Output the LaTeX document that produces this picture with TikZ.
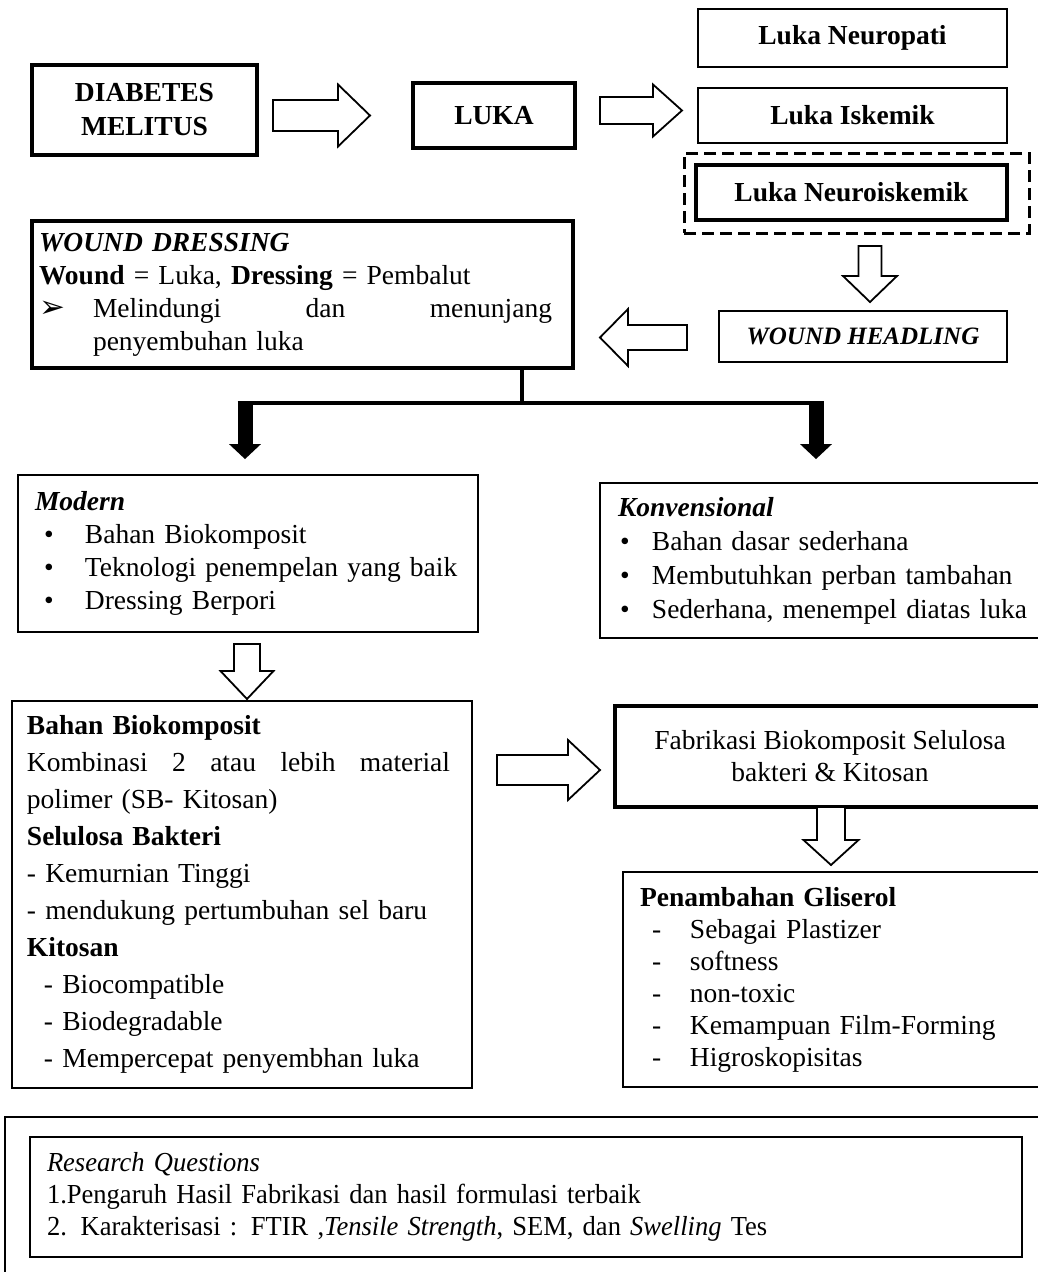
\documentclass[tikz,border=0pt]{standalone}
\usepackage{fontspec}
\setmainfont{Liberation Serif}
\newfontfamily\symfont{DejaVu Sans}
\newfontfamily\condfont[FakeStretch=0.965]{Liberation Serif}
\usetikzlibrary{calc,arrows.meta}

\tikzset{
  thinbox/.style={draw, line width=1.8pt, inner sep=0pt},
  thickbox/.style={draw, line width=3.5pt, inner sep=0pt},
  hollow/.style={draw, line width=1.8pt, fill=white, line join=miter},
  barline/.style={line width=3.5pt},
  thickarrow/.style={line width=15pt, -{Triangle[width=31pt,length=15pt]}}
}

% hollow block arrow: tail, tip, shaft half width, head half width, head length
\newcommand\hollowarrow[5]{%
  \coordinate (hb) at ($(#2)!#5!(#1)$);
  \draw[hollow] ($(#1)!#3!90:(#2)$) -- ($(hb)!#3!-90:(#1)$) -- ($(hb)!#4!-90:(#1)$) -- (#2)
    -- ($(hb)!#4!90:(#1)$) -- ($(hb)!#3!90:(#1)$) -- ($(#1)!#3!-90:(#2)$) -- cycle;
}
\newcommand\bul{\hspace*{9pt}\makebox[41pt][l]{\textbullet}}
\newcommand\kbul{\hspace*{2pt}\makebox[32pt][l]{\textbullet}}
\newcommand\gdash{\hspace*{12pt}\makebox[38pt][l]{-}}

\begin{document}
\fontsize{27.5}{33}\selectfont
\begin{tikzpicture}[x=1pt, y=-1pt]
  \useasboundingbox (0,0) rectangle (1038,1272);

  % top row
  \node[thickbox, minimum width=225, minimum height=90, align=center,
        font=\bfseries\fontsize{27.5}{34}\selectfont] (dm) at (144.5,110) {DIABETES\\MELITUS};
  \node[thickbox, minimum width=162, minimum height=65, font=\bfseries] (luka) at (494,115.5) {LUKA};
  \node[thinbox, minimum width=309, minimum height=58, font=\bfseries] (neuro) at (852.5,38) {Luka Neuropati};
  \node[thinbox, minimum width=309, minimum height=55, font=\bfseries] (isk) at (852.5,115.5) {Luka Iskemik};
  \node[draw, line width=3pt, dash pattern=on 12pt off 6pt, minimum width=345, minimum height=80] (sel) at (856.5,193) {};
  \node[thickbox, minimum width=311, minimum height=55, font=\bfseries] (nisk) at (851.5,192.5) {Luka Neuroiskemik};
  \node[thinbox, minimum width=288, minimum height=51,
        font=\bfseries\itshape\fontsize{25}{30}\selectfont] (heal) at (863,336.5) {WOUND HEADLING};

  % wound dressing
  \node[thickbox, minimum width=541, minimum height=147, text width=527, align=left] (dress) at (302.5,294.5) {%
    {\bfseries\itshape WOUND DRESSING}\\
    {\bfseries Wound} = Luka, {\bfseries Dressing} = Pembalut\\
    \makebox[54pt][l]{\symfont\fontsize{31}{31}\selectfont ➢}\makebox[459pt][l]{Melindungi\hfill dan\hfill menunjang}\\
    \hspace*{54pt}penyembuhan luka};

  % modern / konvensional
  \node[thinbox, minimum width=460, minimum height=157, text width=426, align=left] (modern) at (248,553.5) {%
    {\bfseries\itshape Modern}\\
    \bul Bahan Biokomposit\\
    \bul Teknologi penempelan yang baik\\
    \bul Dressing Berpori};
  \node[thinbox, minimum width=445, minimum height=155, text width=409, align=left,
        font=\fontsize{27.5}{34}\selectfont] (konv) at (822.5,560.5) {%
    {\bfseries\itshape Konvensional}\\
    \kbul Bahan dasar sederhana\\
    \kbul Membutuhkan perban tambahan\\
    \kbul Sederhana, menempel diatas luka};

  % biokomposit
  \node[thinbox, minimum width=460, minimum height=387, text width=430, align=left,
        font=\fontsize{27.5}{37}\selectfont] (bahan) at (242,894.5) {%
    {\bfseries Bahan Biokomposit}\\
    \makebox[423pt][l]{Kombinasi\hfill 2\hfill atau\hfill lebih\hfill material}\\
    polimer (SB- Kitosan)\\
    {\bfseries Selulosa Bakteri}\\
    - Kemurnian Tinggi\\
    - mendukung pertumbuhan sel baru\\
    {\bfseries Kitosan}\\
    \hspace*{17pt}- Biocompatible\\
    \hspace*{17pt}- Biodegradable\\
    \hspace*{17pt}- Mempercepat penyembhan luka};
  \node[thickbox, minimum width=430, minimum height=101, align=center,
        font=\fontsize{27.5}{32}\selectfont] (fab) at (830,756.5) {Fabrikasi Biokomposit Selulosa\\bakteri \& Kitosan};
  \node[thinbox, minimum width=422, minimum height=215, text width=388, align=left,
        font=\fontsize{27.5}{32}\selectfont] (glis) at (834,979.5) {%
    {\bfseries Penambahan Gliserol}\\
    \gdash Sebagai Plastizer\\
    \gdash softness\\
    \gdash non-toxic\\
    \gdash Kemampuan Film-Forming\\
    \gdash Higroskopisitas};

  % research questions
  \node[draw, line width=2.5pt, minimum width=1040, minimum height=183] (rqout) at (525,1208.5) {};
  \node[thinbox, minimum width=992, minimum height=120, text width=958, align=left,
        font=\condfont\fontsize{27.5}{32}\selectfont] (rq) at (526,1197) {%
    {\itshape Research Questions}\\
    1.Pengaruh Hasil Fabrikasi dan hasil formulasi terbaik\\
    2. Karakterisasi : FTIR ,{\itshape Tensile Strength}, SEM, dan {\itshape Swelling} Tes};

  % hollow arrows
  \coordinate (a1t) at (273,115.5);  \coordinate (a1h) at (370,115.5);
  \coordinate (a2t) at (600,110.5);  \coordinate (a2h) at (682,110.5);
  \coordinate (a3t) at (870,246);    \coordinate (a3h) at (870,302);
  \coordinate (a4t) at (687,337.5);  \coordinate (a4h) at (600,337.5);
  \coordinate (a5t) at (247,644);    \coordinate (a5h) at (247,699);
  \coordinate (a6t) at (497,770);    \coordinate (a6h) at (600,770);
  \coordinate (a7t) at (831,807);    \coordinate (a7h) at (831,865);
  \hollowarrow{a1t}{a1h}{15.5pt}{31pt}{32pt}
  \hollowarrow{a2t}{a2h}{13.5pt}{26pt}{29pt}
  \hollowarrow{a3t}{a3h}{11.5pt}{27pt}{26pt}
  \hollowarrow{a4t}{a4h}{12.5pt}{28.5pt}{28pt}
  \hollowarrow{a5t}{a5h}{13pt}{26.5pt}{28pt}
  \hollowarrow{a6t}{a6h}{15pt}{30pt}{32pt}
  \hollowarrow{a7t}{a7h}{14pt}{27.5pt}{25pt}

  % split below wound dressing
  \coordinate (split) at (522,403);
  \coordinate (jl) at (245,403);
  \coordinate (jr) at (816,403);
  \draw[barline] (dress.south -| split) -- (split);
  \draw[barline] ([xshift=-7.5pt]jl) -- ([xshift=7.5pt]jr);
  \draw[thickarrow] ([yshift=1.5pt]jl) -- ([yshift=15pt]modern.north -| jl);
  \draw[thickarrow] ([yshift=1.5pt]jr) -- ([yshift=23pt]konv.north -| jr);
\end{tikzpicture}
\end{document}
